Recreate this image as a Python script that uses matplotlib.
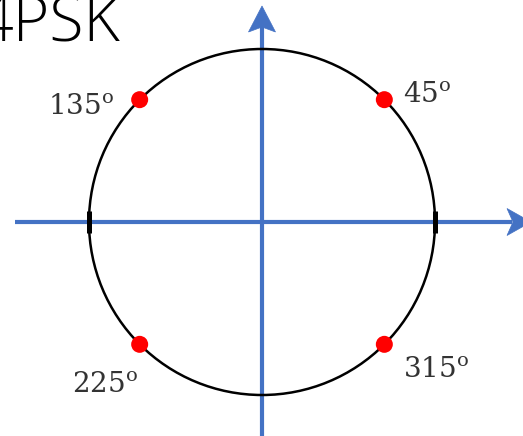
import numpy as np
import matplotlib
matplotlib.use("Agg")
import matplotlib.pyplot as plt
from matplotlib.patches import Circle, Polygon

plt.rcParams["mathtext.fontset"] = "custom"
plt.rcParams["mathtext.rm"] = "DejaVu Serif"

# data
angles_deg = [45, 135, 225, 315]
angle_labels = ["45", "135", "225", "315"]
title_text = "4PSK"

W, H = 523, 436
fig = plt.figure(figsize=(W / 100, H / 100), dpi=100)
ax = fig.add_axes([0, 0, 1, 1])
ax.set_xlim(0, W)
ax.set_ylim(H, 0)
ax.axis("off")

cx, cy, r = 262, 222, 173
blue = "#4472C4"

# axes lines
ax.plot([15, 512], [cy, cy], color=blue, lw=3.0, solid_capstyle="butt", zorder=2)
ax.plot([cx, cx], [H + 5, 24], color=blue, lw=3.0, solid_capstyle="butt", zorder=2)
# arrow heads (stealth style)
ax.add_patch(Polygon([[531, cy], [507, cy - 13.5], [513, cy], [507, cy + 13.5]],
                     closed=True, fc=blue, ec=blue, lw=0.5, zorder=3))
ax.add_patch(Polygon([[cx, 6], [cx - 13.5, 32], [cx, 27], [cx + 13.5, 32]],
                     closed=True, fc=blue, ec=blue, lw=0.5, zorder=3))

# circle
ax.add_patch(Circle((cx, cy), r, fill=False, ec="black", lw=1.8, zorder=4))
# ticks at circle/axis crossings
for x in (cx - r, cx + r):
    ax.plot([x, x], [cy - 11, cy + 11], color="black", lw=3.6, solid_capstyle="butt", zorder=5)

# constellation points
th = np.deg2rad(angles_deg)
px = cx + r * np.cos(th)
py = cy - r * np.sin(th)
ax.scatter(px, py, s=150, color="#FF0000", edgecolors="none", zorder=6)

# labels
label_pos = {"45": (403, 103), "135": (48, 115), "225": (72, 393), "315": (403, 378)}
for lab in angle_labels:
    x, y = label_pos[lab]
    ax.text(x, y, r"$\mathrm{" + lab + r"}^{\mathrm{o}}$", ha="left", va="baseline",
            fontsize=20, color="#333333", zorder=7)

ax.text(120, 42, title_text, ha="right", va="baseline", fontsize=45,
        family=["Open Sans", "DejaVu Sans"], fontweight="light", color="black")

fig.savefig("out.png", dpi=100)
